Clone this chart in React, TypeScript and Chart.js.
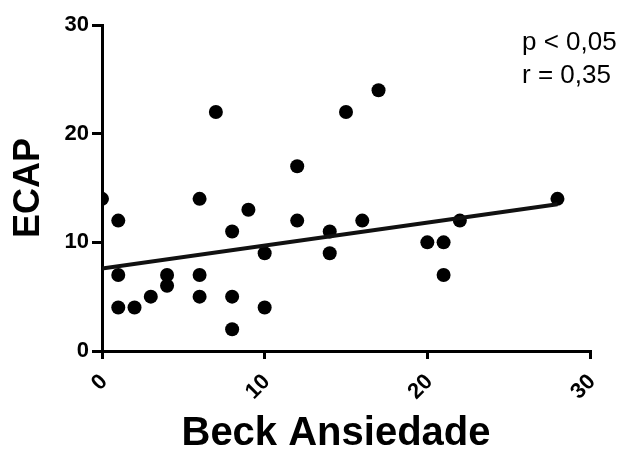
import { useEffect, useRef } from "react";
import { Chart, registerables } from "chart.js";

Chart.register(...registerables);

// Data
const beckX = [0, 1, 1, 1, 2, 3, 4, 4, 6, 6, 6, 7, 8, 8, 8, 9, 10, 10, 12, 12, 14, 14, 15, 16, 17, 20, 21, 21, 22, 28];
const ecapY = [14, 12, 7, 4, 4, 5, 7, 6, 14, 7, 5, 22, 11, 5, 2, 13, 9, 4, 17, 12, 11, 9, 22, 12, 24, 10, 10, 7, 12, 14];
const fitX = [0, 28];
const fitY = [7.6, 13.5];
const xTicks = [0, 10, 20, 30];
const yTicks = [0, 10, 20, 30];
const statsText = ["p < 0,05", "r = 0,35"];
const xTitle = "Beck Ansiedade";
const yTitle = "ECAP";

const FONT = '"Liberation Sans", Arial, Helvetica, sans-serif';

const textPlugin = {
  id: "extraText",
  afterDraw(chart: any) {
    const { ctx, chartArea, height } = chart;
    ctx.save();
    ctx.fillStyle = "#000";
    // statistics annotation
    ctx.font = `26px ${FONT}`;
    ctx.textAlign = "left";
    ctx.textBaseline = "alphabetic";
    statsText.forEach((t, i) => {
      ctx.fillText(t, chartArea.right - 68, chartArea.top + 25 + i * 33);
    });
    // x-axis title
    ctx.font = `bold 40px ${FONT}`;
    ctx.textAlign = "center";
    ctx.fillText(xTitle, (chartArea.left + chartArea.right) / 2 - 10, height - 4);
    ctx.restore();
  },
};

export default function App() {
  const ref = useRef<HTMLCanvasElement | null>(null);

  useEffect(() => {
    if (!ref.current) return;
    const points = beckX.map((x, i) => ({ x, y: ecapY[i] }));
    const fit = fitX.map((x, i) => ({ x, y: fitY[i] }));
    const chart = new Chart(ref.current, {
      type: "scatter",
      data: {
        datasets: [
          {
            type: "line",
            data: fit,
            borderColor: "#111",
            borderWidth: 4,
            pointRadius: 0,
            fill: false,
          } as any,
          {
            data: points,
            backgroundColor: "#000",
            borderColor: "#000",
            pointRadius: 7,
            pointHoverRadius: 7,
            borderWidth: 0,
          },
        ],
      },
      options: {
        responsive: false,
        animation: false,
        events: [],
        layout: { padding: { top: 25, right: 46, left: 0, bottom: 0 } },
        plugins: {
          legend: { display: false },
          tooltip: { enabled: false },
          title: { display: false },
        },
        scales: {
          x: {
            type: "linear",
            min: xTicks[0],
            max: xTicks[xTicks.length - 1],
            afterBuildTicks: (s: any) => {
              s.ticks = xTicks.map((v) => ({ value: v }));
            },
            afterFit: (s: any) => {
              s.height = 98;
            },
            ticks: {
              font: { family: FONT, size: 22, weight: "bold" },
              color: "#000",
              minRotation: 45,
              maxRotation: 45,
              padding: 10,
              labelOffset: 2,
            },
            grid: {
              drawOnChartArea: false,
              drawTicks: true,
              tickLength: 8,
              lineWidth: 3,
              color: "#000",
            },
            border: { display: true, color: "#000", width: 3 },
            title: { display: false },
          },
          y: {
            type: "linear",
            min: yTicks[0],
            max: yTicks[yTicks.length - 1],
            afterBuildTicks: (s: any) => {
              s.ticks = yTicks.map((v) => ({ value: v }));
            },
            afterFit: (s: any) => {
              s.width = 102;
            },
            ticks: {
              font: { family: FONT, size: 22, weight: "bold" },
              color: "#000",
              padding: 3,
            },
            grid: {
              drawOnChartArea: false,
              drawTicks: true,
              tickLength: 10,
              lineWidth: 3,
              color: "#000",
            },
            border: { display: true, color: "#000", width: 3 },
            title: {
              display: true,
              text: yTitle,
              color: "#000",
              font: { family: FONT, size: 36, weight: "bold", lineHeight: 0.8 },
              padding: { top: 15, bottom: 0 },
            },
          },
        },
      },
      plugins: [textPlugin],
    });
    return () => chart.destroy();
  }, []);

  return (
    <div style={{ position: "fixed", left: 0, top: 0, width: 636, height: 449, background: "#fff" }}>
      <canvas ref={ref} width={636} height={449} />
    </div>
  );
}
